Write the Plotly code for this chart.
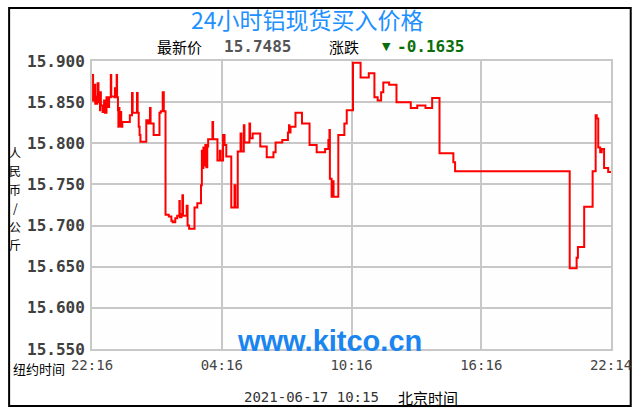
import plotly.graph_objects as go

# ---- data (hours since 22:16 New York time, price CNY/kg) ----
hours = [0.00, 0.05, 0.10, 0.15, 0.24, 0.26, 0.30, 0.37, 0.38, 0.41, 0.49, 0.56, 0.60, 0.67,
         0.74, 0.79, 0.87, 0.89, 1.04, 1.06, 1.10, 1.14, 1.16, 1.20, 1.22, 1.24, 1.27, 1.31,
         1.35, 1.40, 1.75, 1.85, 1.88, 2.08, 2.11, 2.16, 2.20, 2.24, 2.51, 2.59, 2.68, 2.71,
         2.85, 3.12, 3.18, 3.27, 3.32, 3.40, 3.55, 3.67, 3.73, 3.85, 3.94, 4.04, 4.06, 4.14,
         4.18, 4.21, 4.38, 4.42, 4.49, 4.74, 4.87, 5.04, 5.08, 5.11, 5.15, 5.19, 5.24, 5.29,
         5.33, 5.37, 5.57, 5.60, 5.80, 5.91, 5.95, 6.06, 6.13, 6.21, 6.44, 6.59, 6.63, 6.74,
         6.87, 6.91, 7.02, 7.05, 7.28, 7.31, 7.43, 7.78, 8.08, 8.39, 8.49, 8.80, 9.06, 9.11,
         9.13, 9.18, 9.41, 9.71, 10.06, 10.39, 10.78, 10.93, 10.98, 11.00, 11.08, 11.13, 11.17,
         11.39, 11.67, 11.78, 12.07, 12.42, 12.80, 13.06, 13.21, 13.37, 13.47, 13.74, 14.08,
         14.74, 15.04, 15.42, 15.73, 16.07, 16.71, 16.79, 22.09, 22.41, 22.47, 22.76, 23.15,
         23.29, 23.34, 23.41, 23.50, 23.57, 23.68, 23.87, 24.00]
prices = [15.883, 15.852, 15.871, 15.848, 15.857, 15.873, 15.850, 15.840, 15.862, 15.846,
          15.838, 15.852, 15.837, 15.856, 15.844, 15.856, 15.883, 15.857, 15.856, 15.867,
          15.857, 15.883, 15.856, 15.840, 15.820, 15.843, 15.821, 15.838, 15.820, 15.826,
          15.834, 15.861, 15.837, 15.861, 15.837, 15.820, 15.810, 15.802, 15.828, 15.824,
          15.843, 15.824, 15.810, 15.837, 15.839, 15.862, 15.839, 15.713, 15.711, 15.706,
          15.704, 15.709, 15.712, 15.730, 15.710, 15.714, 15.737, 15.712, 15.724, 15.700,
          15.696, 15.722, 15.727, 15.749, 15.791, 15.770, 15.795, 15.773, 15.798, 15.771,
          15.796, 15.805, 15.826, 15.805, 15.779, 15.791, 15.779, 15.810, 15.798, 15.784,
          15.722, 15.749, 15.722, 15.790, 15.812, 15.790, 15.822, 15.801, 15.824, 15.806,
          15.812, 15.796, 15.783, 15.789, 15.801, 15.804, 15.813, 15.822, 15.813, 15.820,
          15.837, 15.824, 15.798, 15.789, 15.793, 15.804, 15.816, 15.757, 15.735, 15.754,
          15.735, 15.810, 15.824, 15.840, 15.898, 15.880, 15.885, 15.856, 15.852, 15.862,
          15.874, 15.871, 15.850, 15.843, 15.846, 15.843, 15.855, 15.788, 15.777, 15.766,
          15.648, 15.661, 15.674, 15.723, 15.766, 15.834, 15.830, 15.795, 15.789, 15.793,
          15.770, 15.765, 15.765]

tick_hours = [0, 6, 12, 18, 24]
tick_labels = ["22:16", "04:16", "10:16", "16:16", "22:14"]
y_ticks = [15.55, 15.60, 15.65, 15.70, 15.75, 15.80, 15.85, 15.90]

title_text = "24小时铝现货买入价格"
latest_label = "最新价"
latest_value = "15.7485"
change_label = "涨跌"
change_value = "-0.1635"
y_title = "人民币/公斤"
ny_label = "纽约时间"
stamp = "2021-06-17 10:15"
bj_label = "北京时间"
watermark = "www.kitco.cn"

# ---- layout geometry (page pixels; body margin removed via post_script) ----
W, H = 644, 419
L, R, T, B = 92, 618, 61, 349


def px(x):
    return (x - L) / (R - L)


def py(y):
    return (B - y) / (B - T)


fig = go.Figure()
fig.add_trace(go.Scatter(x=hours, y=prices, mode="lines", line_shape="hv",
                         line=dict(color="#ff0000", width=2), hoverinfo="skip",
                         showlegend=False))

mono = "DejaVu Sans Mono"
cjk = "Noto Sans CJK SC"

ann = []
ann.append(dict(text=title_text, x=px(310), y=py(19), font=dict(family=cjk, size=23, color="#1e90ff")))
ann.append(dict(text=latest_label, x=px(181), y=py(46), font=dict(family=cjk, size=15, color="#000")))
ann.append(dict(text="<b>" + latest_value + "</b>", x=px(260), y=py(46), font=dict(family=mono, size=16, color="#555555")))
ann.append(dict(text=change_label, x=px(347), y=py(46), font=dict(family=cjk, size=15, color="#000")))
ann.append(dict(text="▼", x=px(390), y=py(47), font=dict(family="DejaVu Sans", size=11, color="#0a6e0a")))
ann.append(dict(text="<b>" + change_value + "</b>", x=px(435), y=py(46), font=dict(family=mono, size=16, color="#0a6e0a")))
# vertical, upright stacked y-axis title: one character per row
for i, ch in enumerate(y_title):
    ann.append(dict(text=ch, x=px(14), y=py(152 + 18.5 * i), borderpad=0,
                    font=dict(family=cjk, size=12, color="#000")))
ann.append(dict(text=ny_label, x=px(38), y=py(368), font=dict(family=cjk, size=13, color="#000")))
ann.append(dict(text=stamp, x=px(314), y=py(397), font=dict(family=mono, size=14, color="#333333")))
ann.append(dict(text=bj_label, x=px(433), y=py(397), font=dict(family=cjk, size=15, color="#000")))
ann.append(dict(text="<b>" + watermark + "</b>", x=px(333), y=py(341), font=dict(family="Liberation Sans", size=29, color="#1a85f0")))

for a in ann:
    a.update(xref="paper", yref="paper", showarrow=False, xanchor="center", yanchor="middle")

fig.update_layout(
    width=W, height=H,
    margin=dict(l=L, r=W - R, t=T, b=H - B, pad=0),
    paper_bgcolor="#ffffff", plot_bgcolor="#fdfefd",
    annotations=ann,
    shapes=[dict(type="rect", xref="paper", yref="paper",
                 x0=px(8), x1=px(638), y0=py(406), y1=py(8),
                 line=dict(color="#000000", width=2), fillcolor="rgba(0,0,0,0)", layer="below")],
    xaxis=dict(range=[0, 24], tickvals=tick_hours, ticktext=tick_labels,
               showgrid=True, gridcolor="#c8c8c8", gridwidth=2,
               showline=True, linecolor="#c8c8c8", linewidth=2, mirror=True,
               zeroline=False, ticks="outside", ticklen=2, tickcolor="rgba(0,0,0,0)",
               tickfont=dict(family=mono, size=14, color="#444444"), fixedrange=True),
    yaxis=dict(range=[15.55, 15.90], tickvals=y_ticks, tickformat=".3f",
               showgrid=True, gridcolor="#c8c8c8", gridwidth=2,
               showline=True, linecolor="#c8c8c8", linewidth=2, mirror=True,
               zeroline=False, ticks="outside", ticklen=2, tickcolor="rgba(0,0,0,0)",
               tickfont=dict(family=mono, size=16, color="#404040", weight="bold"), fixedrange=True),
)

fig.write_html("out.html", config={"displayModeBar": False},
               post_script="document.body.style.margin='0';")
